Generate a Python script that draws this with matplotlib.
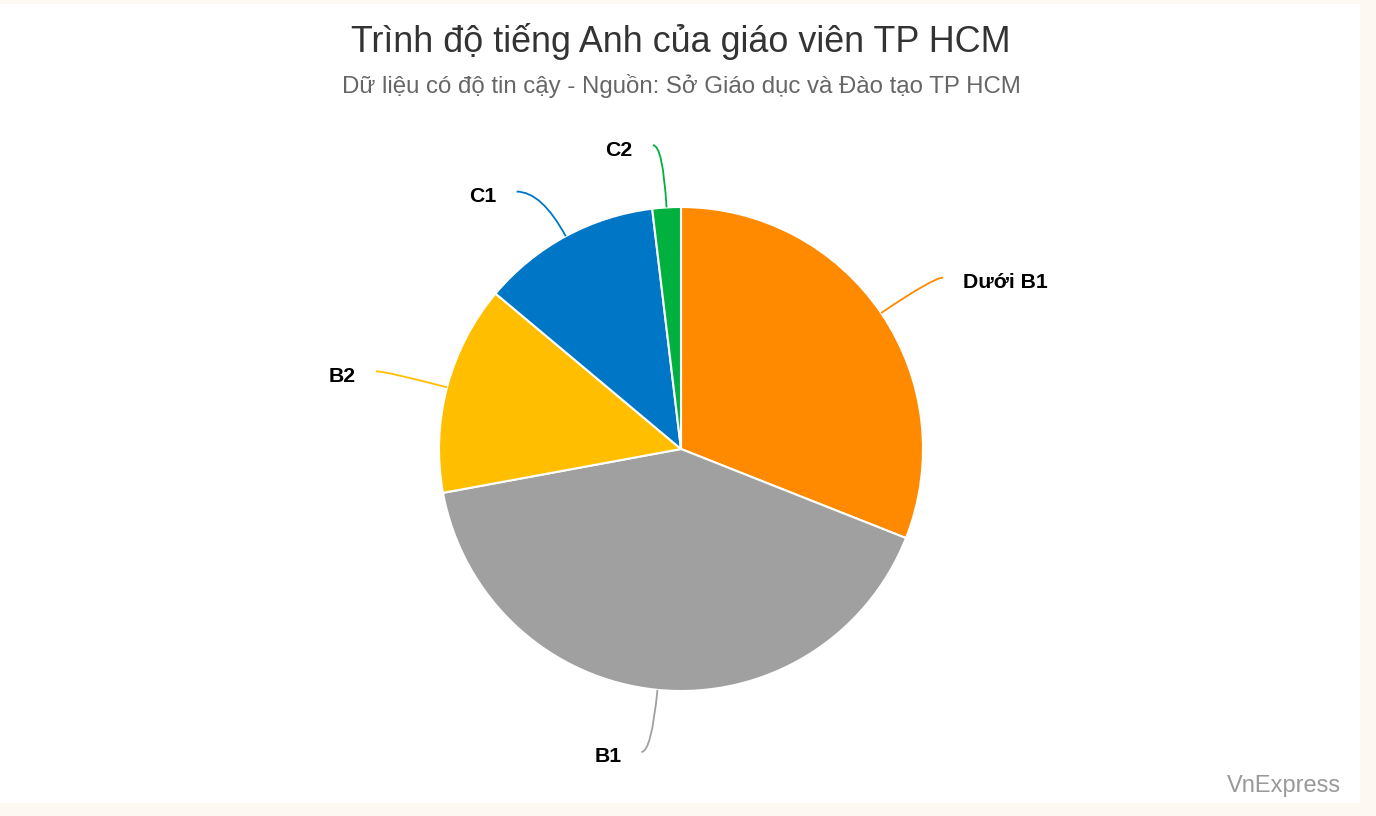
import numpy as np
import matplotlib
matplotlib.use("Agg")
import matplotlib.pyplot as plt
from matplotlib.patches import Rectangle, PathPatch
from matplotlib.path import Path

plt.rcParams['font.family'] = ['Liberation Sans', 'DejaVu Sans']

# ---- data ----
categories = ["Dưới B1", "B1", "B2", "C1", "C2"]
values = [31.0, 41.1, 14.0, 12.0, 1.9]
colors = ["#FF8A00", "#A0A0A0", "#FFBE00", "#0077C6", "#00B140"]
title = "Trình độ tiếng Anh của giáo viên TP HCM"
subtitle = "Dữ liệu có độ tin cậy - Nguồn: Sở Giáo dục và Đào tạo TP HCM"
credit = "VnExpress"
label_angle_nudge = [0, -1, 0, 4.0, 1.5]   # degrees, layout only
label_hook = [10, 10, 10, 25, 10]          # horizontal end of connector, px

W, H = 1376, 816
fig = plt.figure(figsize=(W / 100, H / 100), dpi=100, facecolor="#FDF8F1")
ax = fig.add_axes([0, 0, 1, 1])
ax.set_xlim(0, W)
ax.set_ylim(0, H)
ax.axis("off")

# white card
ax.add_patch(Rectangle((0, H - 803), 1360, 799, facecolor="white", edgecolor="none", zorder=0))

cx, cy, R = 681, H - 449, 242
wedges, _ = ax.pie(values, colors=colors, startangle=90, counterclock=False,
                   center=(cx, cy), radius=R, frame=True,
                   wedgeprops=dict(edgecolor="white", linewidth=1.5))
ax.set_xlim(0, W)
ax.set_ylim(0, H)
ax.set_aspect("auto")
ax.axis("off")

for w, lab, col, nudge, hook in zip(wedges, categories, colors, label_angle_nudge, label_hook):
    mid = np.deg2rad((w.theta1 + w.theta2) / 2)
    dx, dy = np.cos(mid), np.sin(mid)
    x0, y0 = cx + R * dx, cy + R * dy
    a2 = mid + np.deg2rad(nudge)
    yend = cy + 305 * np.sin(a2)
    # control: on radial line at height yend
    t = (yend - y0) / dy if abs(dy) > 1e-6 else 0
    xc = x0 + t * dx
    side = 1 if dx >= 0 else -1
    xend = xc + side * hook
    path = Path([(x0, y0), (xc, yend), (xend, yend)],
                [Path.MOVETO, Path.CURVE3, Path.CURVE3])
    ax.add_patch(PathPatch(path, facecolor="none", edgecolor=col, linewidth=1.3, zorder=3))
    ax.text(xend + side * 20, yend - 5, lab, ha="left" if side > 0 else "right",
            va="center", fontsize=15.3, fontweight="bold", color="black", zorder=4)

ax.text(681, H - 42, title, ha="center", va="center", fontsize=25.8, color="#333333")
ax.text(681, H - 86, subtitle, ha="center", va="center", fontsize=17.3, color="#666666")
ax.text(1341, H - 786, credit, ha="right", va="center", fontsize=17, color="#999999")

fig.savefig("out.png", dpi=100, facecolor=fig.get_facecolor())
